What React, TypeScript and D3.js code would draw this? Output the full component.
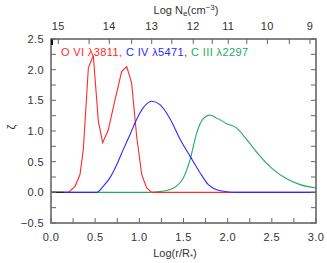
import React from "react";
import * as d3 from "d3";

const W = 327;
const H = 263;
const M = { left: 51, right: 316, top: 39, bottom: 223 };

const xTicks = [0, 0.5, 1.0, 1.5, 2.0, 2.5, 3.0];
const yTicks = [-0.5, 0, 0.5, 1.0, 1.5, 2.0, 2.5];
// Log Ne tick values and their positions in Log(r/R*)
const neTickValues = [15, 14.5, 14, 13.5, 13, 12.5, 12, 11.5, 11, 10.5, 10, 9.5, 9];
const neTickLogr = [0.083, 0.431, 0.66, 0.913, 1.14, 1.367, 1.611, 1.826, 2.007, 2.216, 2.449, 2.698, 2.932];
const neLabels = [15, 14, 13, 12, 11, 10, 9];

const redX = [0, 0.196, 0.272, 0.328, 0.366, 0.396, 0.423, 0.479, 0.536, 0.585, 0.649, 0.725, 0.8, 0.857, 0.913, 0.97, 1.027, 1.083, 1.14, 3.0];
const redY = [0, 0, 0.098, 0.29, 0.7, 1.4, 2.03, 2.23, 1.16, 0.81, 1.02, 1.51, 1.97, 2.05, 1.78, 0.91, 0.29, 0.07, 0, 0];

const blueX = [0, 0.517, 0.593, 0.668, 0.744, 0.819, 0.894, 0.97, 1.045, 1.14, 1.234, 1.347, 1.46, 1.574, 1.687, 1.781, 1.876, 1.99, 2.1, 3.0];
const blueY = [0, 0, 0.1, 0.24, 0.45, 0.7, 0.94, 1.19, 1.38, 1.485, 1.43, 1.2, 0.87, 0.59, 0.32, 0.126, 0.044, 0.01, 0, 0];

const greenX = [0, 1.1, 1.25, 1.347, 1.42, 1.498, 1.574, 1.65, 1.724, 1.8, 1.876, 1.99, 2.1, 2.216, 2.366, 2.517, 2.668, 2.82, 3.0];
const greenY = [0, 0, 0.015, 0.045, 0.1, 0.235, 0.53, 0.97, 1.2, 1.26, 1.21, 1.12, 1.05, 0.86, 0.59, 0.37, 0.22, 0.126, 0.07];

const RED = "#ff2a2a";
const BLUE = "#2a2aff";
const GREEN = "#22aa66";
const FRAME = "#666";
const TEXT = "#333";
const FONT = "'Liberation Sans', Arial, sans-serif";

export default function App() {
  const x = d3.scaleLinear().domain([0, 3]).range([M.left, M.right]);
  const y = d3.scaleLinear().domain([-0.5, 2.5]).range([M.bottom, M.top]);
  const ne = d3.scaleLinear().domain(neTickValues).range(neTickLogr);

  const mk = (xs: number[], ys: number[], curve: d3.CurveFactory) =>
    d3
      .line<number>()
      .x((_, i) => x(xs[i]))
      .y((d) => y(d))
      .curve(curve)(ys) || "";

  const minorX = d3.range(0, 3.001, 0.25);
  const minorY = d3.range(-0.5, 2.501, 0.25);
  const tl = 5;

  return (
    <svg
      width={W}
      height={H}
      style={{ position: "absolute", left: 0, top: 0, background: "#fff" }}
      fontFamily={FONT}
    >
      {/* curves */}
      <path d={mk(greenX, greenY, d3.curveMonotoneX)} fill="none" stroke={GREEN} strokeWidth={1.1} />
      <path d={mk(redX, redY, d3.curveLinear)} fill="none" stroke={RED} strokeWidth={1.1} />
      <path d={mk(blueX, blueY, d3.curveMonotoneX)} fill="none" stroke={BLUE} strokeWidth={1.1} />
      <line x1={x(0)} x2={x(0.15)} y1={y(0)} y2={y(0)} stroke="#222" strokeWidth={1.1} />

      {/* frame */}
      <rect x={M.left} y={M.top} width={M.right - M.left} height={M.bottom - M.top} fill="none" stroke={FRAME} strokeWidth={1.6} />
      <line x1={M.left + 1} x2={M.left + 1} y1={M.top} y2={M.top + 6} stroke="#111" strokeWidth={2} />

      {/* bottom ticks */}
      {minorX.map((v) => (
        <line key={"bx" + v} x1={x(v)} x2={x(v)} y1={M.bottom} y2={M.bottom - tl} stroke={FRAME} strokeWidth={1} />
      ))}
      {/* left/right ticks */}
      {minorY.map((v) => (
        <g key={"ly" + v}>
          <line x1={M.left} x2={M.left + tl} y1={y(v)} y2={y(v)} stroke={FRAME} strokeWidth={1} />
          <line x1={M.right} x2={M.right - tl} y1={y(v)} y2={y(v)} stroke={FRAME} strokeWidth={1} />
        </g>
      ))}
      {/* top ticks */}
      {neTickValues.map((v) => (
        <line key={"tn" + v} x1={x(ne(v))} x2={x(ne(v))} y1={M.top} y2={M.top + tl} stroke={FRAME} strokeWidth={1} />
      ))}

      {/* tick labels */}
      {xTicks.map((v) => (
        <text key={"xl" + v} x={x(v)} y={241} textAnchor="middle" fontSize={11} fill={TEXT} letterSpacing={0.4}>
          {v.toFixed(1)}
        </text>
      ))}
      {yTicks.map((v) => (
        <text key={"yl" + v} x={44} y={y(v) + 4} textAnchor="end" fontSize={11} fill={TEXT} letterSpacing={0.4}>
          {v < 0 ? "\u2212" + Math.abs(v).toFixed(1) : v.toFixed(1)}
        </text>
      ))}
      {neLabels.map((v) => (
        <text key={"nl" + v} x={x(ne(v))} y={30} textAnchor="middle" fontSize={11} fill={TEXT} letterSpacing={0.4}>
          {v}
        </text>
      ))}

      {/* axis titles */}
      <text x={175} y={257} textAnchor="middle" fontSize={11} fill={TEXT}>
        Log(r/R
        <tspan fontSize={8} dy={2}>*</tspan>
        <tspan dy={-2}>)</tspan>
      </text>
      <text x={186} y={14} textAnchor="middle" fontSize={11} fill={TEXT}>
        Log N
        <tspan fontSize={8} dy={2}>e</tspan>
        <tspan dy={-2}>(cm</tspan>
        <tspan fontSize={8} dy={-4}>−3</tspan>
        <tspan dy={4}>)</tspan>
      </text>
      <g transform="translate(11,127) rotate(-90)">
        <text x={0} y={4} textAnchor="middle" fontSize={11} fill={TEXT}>
          ζ
        </text>
      </g>

      {/* legend */}
      <text x={61} y={56} fontSize={11} textLength={187} lengthAdjust="spacing">
        <tspan fill={RED}>O VI λ3811, </tspan>
        <tspan fill={BLUE}>C IV λ5471, </tspan>
        <tspan fill={GREEN}>C III λ2297</tspan>
      </text>
    </svg>
  );
}
